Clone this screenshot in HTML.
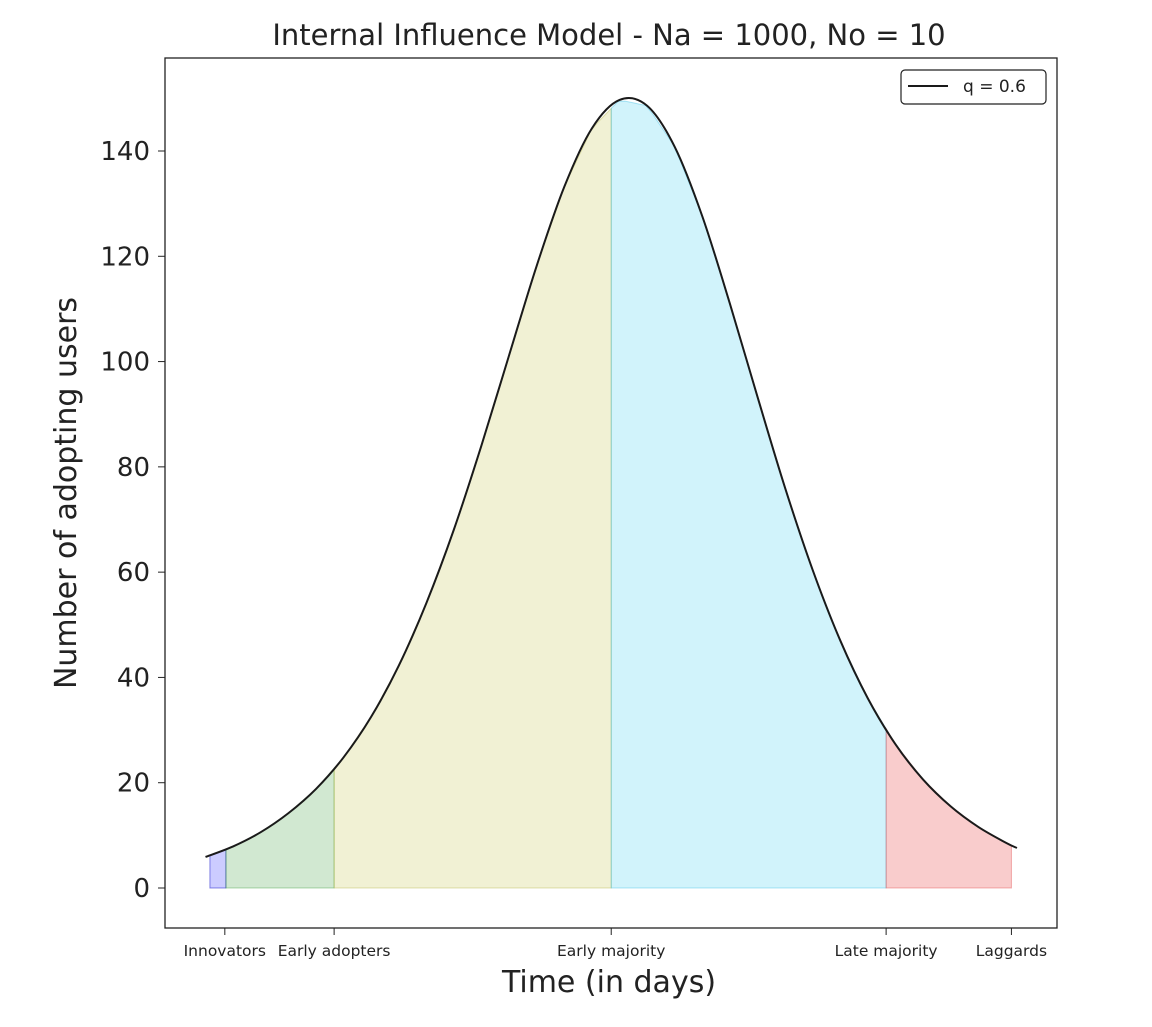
<!DOCTYPE html>
<html><head><meta charset="utf-8"><style>
body{margin:0;background:#fff;}
svg text{font-family:"DejaVu Sans","Liberation Sans",sans-serif;fill:#222;}
</style></head><body>
<svg id="chart" width="1152" height="1022" viewBox="0 0 1152 1022">
<text x="609" y="45" font-size="29" text-anchor="middle">Internal Influence Model - Na = 1000, No = 10</text>
<g id="fills"></g>
<path id="curve" fill="none" stroke="#1a1a1a" stroke-width="2"/>
<rect x="165" y="58" width="892" height="870" fill="none" stroke="#222" stroke-width="1.3"/>
<g id="yticks"></g><g id="xticks"></g>
<text x="609" y="992" font-size="30" text-anchor="middle">Time (in days)</text>
<text transform="translate(76,493) rotate(-90)" font-size="30" text-anchor="middle">Number of adopting users</text>
<g>
<rect x="901" y="70" width="145" height="34" rx="4" fill="#fff" stroke="#222" stroke-width="1.2"/>
<line x1="908" y1="86" x2="948" y2="86" stroke="#1a1a1a" stroke-width="2"/>
<text x="963" y="92" font-size="17">q = 0.6</text>
</g>
</svg>
<script>
const times=[0,0.5,1,1.5,2,2.5,3,3.5,4,4.5,5,5.5,6,6.5,7,7.5,8,8.5,9,9.5,10,10.5,11,11.5,12,12.5,13,13.5,14,14.5,14.7];
const users=[5.9,7.9,10.6,14.2,18.8,24.8,32.5,42.2,54.1,68.1,84.1,101.2,118.2,133.2,144.3,149.7,148.6,140.8,127.6,111.0,93.3,76.0,60.4,47.0,36.0,27.3,20.6,15.5,11.6,8.6,7.6];
const yTicks=[0,20,40,60,80,100,120,140];
const segNames=["Innovators","Early adopters","Early majority","Late majority","Laggards"];
const segStarts=[0.08,0.37,2.33,7.35,12.33];
const segEnds=[0.37,2.33,7.35,12.33,14.6];
const tickTimes=[0.35,2.33,7.35,12.33,14.6];
const segFill=["rgba(0,0,255,0.2)","rgba(0,128,0,0.18)","rgba(190,190,60,0.22)","rgba(0,190,235,0.18)","rgba(230,40,40,0.24)"];
const segEdge=["rgba(0,0,200,0.45)","rgba(0,128,0,0.3)","rgba(170,170,40,0.35)","rgba(0,170,220,0.3)","rgba(220,40,40,0.35)"];
const NS="http://www.w3.org/2000/svg";
const X=t=>205.5+t*55.2, Y=v=>888-v*(737/140);
function interp(t){for(let i=0;i<times.length-1;i++){if(t<=times[i+1]){const f=(t-times[i])/(times[i+1]-times[i]);return users[i]+f*(users[i+1]-users[i]);}}return users[users.length-1];}
function smoothPath(pts){let d="M"+pts[0][0]+","+pts[0][1];for(let i=0;i<pts.length-1;i++){const p0=pts[Math.max(0,i-1)],p1=pts[i],p2=pts[i+1],p3=pts[Math.min(pts.length-1,i+2)];d+=" C"+(p1[0]+(p2[0]-p0[0])/6)+","+(p1[1]+(p2[1]-p0[1])/6)+" "+(p2[0]-(p3[0]-p1[0])/6)+","+(p2[1]-(p3[1]-p1[1])/6)+" "+p2[0]+","+p2[1];}return d;}
document.getElementById('curve').setAttribute('d',smoothPath(times.map((t,i)=>[X(t),Y(users[i])])));
const fills=document.getElementById('fills');
segNames.forEach((n,k)=>{const a=segStarts[k],b=segEnds[k];const pts=[];const N=40;for(let j=0;j<=N;j++){const t=a+(b-a)*j/N;pts.push(X(t).toFixed(2)+","+Y(interp(t)).toFixed(2));}
const p=document.createElementNS(NS,'polygon');p.setAttribute('points',X(a)+","+Y(0)+" "+pts.join(" ")+" "+X(b)+","+Y(0));p.setAttribute('fill',segFill[k]);p.setAttribute('stroke',segEdge[k]);p.setAttribute('stroke-width','1');


fills.appendChild(p);});
const yg=document.getElementById('yticks');
yTicks.forEach(v=>{const l=document.createElementNS(NS,'line');l.setAttribute('x1',158);l.setAttribute('x2',165);l.setAttribute('y1',Y(v));l.setAttribute('y2',Y(v));l.setAttribute('stroke','#222');


yg.appendChild(l);const t=document.createElementNS(NS,'text');t.setAttribute('x',150);t.setAttribute('y',Y(v)+9);t.setAttribute('font-size','26');t.setAttribute('text-anchor','end');t.textContent=v;


yg.appendChild(t);});
const xg=document.getElementById('xticks');
segNames.forEach((n,k)=>{const x=X(tickTimes[k]);const l=document.createElementNS(NS,'line');l.setAttribute('x1',x);l.setAttribute('x2',x);l.setAttribute('y1',928);l.setAttribute('y2',935);l.setAttribute('stroke','#222');


xg.appendChild(l);const t=document.createElementNS(NS,'text');t.setAttribute('x',x);t.setAttribute('y',956);t.setAttribute('font-size','15.5');t.setAttribute('text-anchor','middle');t.textContent=n;


xg.appendChild(t);});
</script>
</body></html>
